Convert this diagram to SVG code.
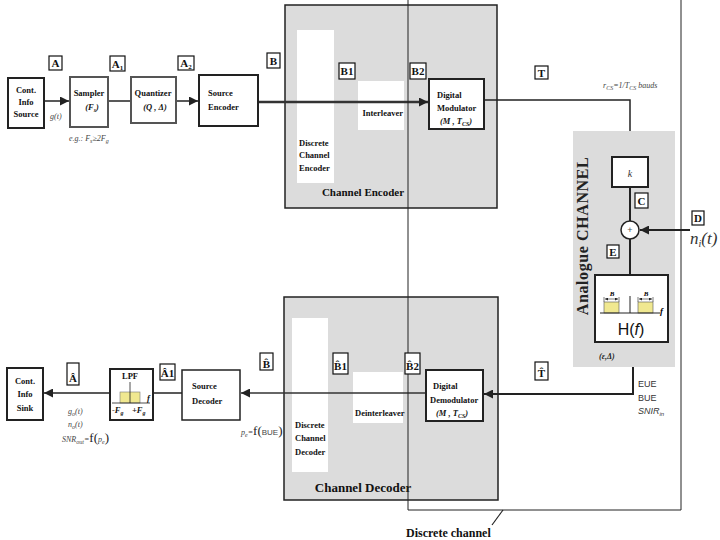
<svg xmlns="http://www.w3.org/2000/svg" width="720" height="540" viewBox="0 0 720 540">
<defs>
<style>
.t{font-family:"Liberation Serif",serif;font-weight:bold;font-size:8.5px;fill:#111}
.tc{text-anchor:middle}
.box{fill:#fff;stroke:#222;stroke-width:2}
.boxg{fill:#fff;stroke:#555;stroke-width:2}
.gray{fill:#dcdcdc}
.lbl{fill:#fff;stroke:#111;stroke-width:1.2}
.lt{font-family:"Liberation Serif",serif;font-weight:bold;font-size:11px;fill:#111;text-anchor:middle}
.it{font-family:"Liberation Serif",serif;font-style:italic;font-size:8px;fill:#444}
.ln{fill:none;stroke:#222;stroke-width:1.5}
.sn{font-family:"Liberation Sans Narrow","Liberation Sans",sans-serif;font-size:9px;fill:#333}
</style>
<marker id="ah" viewBox="0 0 10 10" refX="10" refY="5" markerWidth="9" markerHeight="9" markerUnits="userSpaceOnUse" orient="auto">
<path d="M0,0 L10,5 L0,10 Z" fill="#222"/>
</marker>
<marker id="sa" viewBox="0 0 10 10" refX="10" refY="5" markerWidth="3" markerHeight="3" markerUnits="userSpaceOnUse" orient="auto-start-reverse">
<path d="M0,0 L10,5 L0,10 Z" fill="#222"/>
</marker>
</defs>

<!-- gray containers -->
<g id="channel-encoder">
<rect x="285" y="5" width="212" height="203" class="gray" stroke="#222" stroke-width="1.5"/>
<rect x="297" y="30" width="37" height="153" fill="#fff"/>
<rect x="358" y="81" width="46" height="49" fill="#fff"/>
<text class="t" x="299" y="146">Discrete</text>
<text class="t" x="299" y="158">Channel</text>
<text class="t" x="299" y="171">Encoder</text>
<text class="t" x="403" y="116" text-anchor="end">Interleaver</text>
<text class="t" x="363" y="196" style="font-size:11px" text-anchor="middle">Channel Encoder</text>
</g>
<g id="channel-decoder">
<rect x="284" y="297" width="214" height="203" class="gray" stroke="#222" stroke-width="1.5"/>
<rect x="292" y="318" width="36" height="154" fill="#fff"/>
<rect x="353" y="372" width="50" height="51" fill="#fff"/>
<text class="t" x="295" y="428">Discrete</text>
<text class="t" x="295" y="441">Channel</text>
<text class="t" x="295" y="455">Decoder</text>
<text class="t" x="355" y="416">Deinterleaver</text>
<text class="t" x="363" y="492" style="font-size:13px" text-anchor="middle">Channel Decoder</text>
</g>
<g id="analogue-channel">
<rect x="573" y="131" width="102" height="236" class="gray"/>
<text x="588" y="236" transform="rotate(-90 588 236)" text-anchor="middle" font-family="Liberation Serif,serif" font-weight="bold" font-size="16" letter-spacing="0.6" fill="#222">Analogue  CHANNEL</text>
<text class="it" x="599" y="359" font-weight="bold" style="fill:#222">(ε,Δ)</text>
</g>

<!-- connectors -->
<g id="connectors">
<line x1="45" y1="101" x2="69" y2="101" class="ln" marker-end="url(#ah)"/>
<line x1="108" y1="101" x2="131" y2="101" class="ln"/>
<line x1="176" y1="101" x2="198" y2="101" class="ln" marker-end="url(#ah)"/>
<line x1="258" y1="102" x2="428" y2="102" stroke="#333" stroke-width="2.5" marker-end="url(#ah)"/>
<polyline points="484,100 630,100 630,131" class="ln"/>
<line x1="630" y1="187" x2="630" y2="221" stroke="#222" stroke-width="2"/>
<line x1="630" y1="239" x2="630" y2="275" stroke="#222" stroke-width="2"/>
<line x1="690" y1="230" x2="640" y2="230" stroke="#222" stroke-width="2" marker-end="url(#ah)"/>
<polyline points="633,367 633,394 484,394" stroke="#222" stroke-width="2" fill="none" marker-end="url(#ah)"/>
<line x1="426" y1="393" x2="241" y2="393" stroke="#333" stroke-width="1.3" marker-end="url(#ah)"/>
<line x1="182" y1="393" x2="153" y2="393" class="ln"/>
<line x1="110" y1="393" x2="44" y2="393" class="ln" marker-end="url(#ah)"/>
<!-- discrete channel outline -->
<polyline points="408,0 408,510 681,510 681,0" fill="none" stroke="#222" stroke-width="1"/>
<line x1="492" y1="525" x2="503" y2="510" stroke="#222" stroke-width="1.2"/>
</g>

<!-- nodes -->
<g id="source">
<rect x="8" y="78" width="36" height="50" class="box"/>
<text class="t tc" x="26" y="93">Cont.</text>
<text class="t tc" x="26" y="105">Info</text>
<text class="t tc" x="26" y="117">Source</text>
</g>
<g id="sampler">
<rect x="70" y="77" width="38" height="50" class="boxg"/>
<text class="t tc" x="89" y="96">Sampler</text>
<text class="t tc" x="92" y="110" font-style="italic">(F<tspan font-size="6" dy="2">s</tspan><tspan dy="-2">)</tspan></text>
</g>
<g id="quantizer">
<rect x="131" y="77" width="45" height="46" class="boxg"/>
<text class="t tc" x="153" y="96">Quantizer</text>
<text class="t tc" x="155" y="110" font-style="italic">(Q , Δ)</text>
</g>
<g id="source-encoder">
<rect x="199" y="75" width="59" height="51" class="box"/>
<text class="t" x="208" y="96">Source</text>
<text class="t" x="208" y="110">Encoder</text>
</g>
<g id="modulator">
<rect x="429" y="79" width="55" height="50" class="box"/>
<text class="t" x="437" y="98">Digital</text>
<text class="t" x="437" y="111">Modulator</text>
<text class="t" x="440" y="124" font-style="italic">(M , T<tspan font-size="6" dy="2">CS</tspan><tspan dy="-2">)</tspan></text>
</g>
<g id="gain">
<rect x="612" y="157" width="36" height="30" class="box"/>
<text x="630" y="177" text-anchor="middle" font-family="Liberation Serif,serif" font-style="italic" font-size="10" fill="#333">k</text>
</g>
<g id="adder">
<circle cx="630" cy="230" r="9" fill="#fff" stroke="#222" stroke-width="1.5"/>
<text x="630" y="233" text-anchor="middle" font-family="Liberation Sans,sans-serif" font-size="9" fill="#555">+</text>
</g>
<g id="filter">
<rect x="595" y="275" width="73" height="67" class="box"/>
<rect x="604" y="302" width="15" height="11" fill="#f0e890" stroke="#555" stroke-width="0.6"/>
<rect x="638" y="302" width="15" height="11" fill="#f0e890" stroke="#555" stroke-width="0.6"/>
<line x1="600" y1="313" x2="660" y2="313" stroke="#222" stroke-width="1"/>
<line x1="630" y1="296" x2="630" y2="313" stroke="#222" stroke-width="1"/>
<line x1="605" y1="299" x2="618" y2="299" stroke="#222" stroke-width="0.6" marker-start="url(#sa)" marker-end="url(#sa)"/>
<line x1="639" y1="299" x2="652" y2="299" stroke="#222" stroke-width="0.6" marker-start="url(#sa)" marker-end="url(#sa)"/>
<line x1="604" y1="297" x2="604" y2="302" stroke="#222" stroke-width="0.6"/>
<line x1="619" y1="297" x2="619" y2="302" stroke="#222" stroke-width="0.6"/>
<line x1="638" y1="297" x2="638" y2="302" stroke="#222" stroke-width="0.6"/>
<line x1="653" y1="297" x2="653" y2="302" stroke="#222" stroke-width="0.6"/>
<text x="612" y="296" text-anchor="middle" font-family="Liberation Serif,serif" font-style="italic" font-weight="bold" font-size="7">B</text>
<text x="646" y="296" text-anchor="middle" font-family="Liberation Serif,serif" font-style="italic" font-weight="bold" font-size="7">B</text>
<text x="660" y="314" font-family="Liberation Serif,serif" font-style="italic" font-weight="bold" font-size="9">f</text>
<text x="631" y="335" text-anchor="middle" font-family="Liberation Sans,sans-serif" font-size="16" fill="#111">H(<tspan font-style="italic">f</tspan>)</text>
</g>
<g id="demodulator">
<rect x="426" y="370" width="57" height="51" class="box"/>
<text class="t" x="433" y="389">Digital</text>
<text class="t" x="430" y="403">Demodulator</text>
<text class="t" x="436" y="416" font-style="italic">(M , T<tspan font-size="6" dy="2">CS</tspan><tspan dy="-2">)</tspan></text>
</g>
<g id="source-decoder">
<rect x="182" y="370" width="58" height="50" fill="#fff" stroke="#222" stroke-width="1.5"/>
<text class="t" x="192" y="389">Source</text>
<text class="t" x="192" y="404">Decoder</text>
</g>
<g id="lpf">
<rect x="110" y="369" width="43" height="51" class="box"/>
<text class="t tc" x="130" y="379">LPF</text>
<rect x="120" y="392" width="20" height="11" fill="#f0e890" stroke="#777" stroke-width="0.6"/>
<line x1="130" y1="382" x2="130" y2="403" stroke="#222" stroke-width="0.8"/>
<line x1="112" y1="403" x2="150" y2="403" stroke="#222" stroke-width="0.8"/>
<text class="t" x="112" y="413" font-style="italic">-F<tspan font-size="6" dy="2">g</tspan></text>
<text class="t" x="132" y="413" font-style="italic">+F<tspan font-size="6" dy="2">g</tspan></text>
<text class="t" x="147" y="401" font-style="italic">f</text>
</g>
<g id="sink">
<rect x="7" y="368" width="36" height="52" class="box"/>
<text class="t tc" x="25" y="384">Cont.</text>
<text class="t tc" x="25" y="397">Info</text>
<text class="t tc" x="25" y="411">Sink</text>
</g>

<!-- point labels -->
<g id="labels">
<rect x="49" y="56" width="13" height="14" class="lbl"/><text class="lt" x="55.5" y="67">A</text>
<rect x="110" y="56" width="15" height="15" class="lbl"/><text class="lt" x="117.5" y="68">A<tspan font-size="7" dy="2">1</tspan></text>
<rect x="178" y="56" width="16" height="14" class="lbl"/><text class="lt" x="186" y="67">A<tspan font-size="7" dy="2">2</tspan></text>
<rect x="267" y="53" width="13" height="15" class="lbl"/><text class="lt" x="273.5" y="65">B</text>
<rect x="339" y="63" width="16" height="16" class="lbl"/><text class="lt" x="347" y="75">B1</text>
<rect x="410" y="63" width="16" height="16" class="lbl"/><text class="lt" x="418" y="75">B2</text>
<rect x="535" y="66" width="13" height="13" class="lbl"/><text class="lt" x="541.5" y="77">T</text>
<rect x="635" y="193" width="13" height="15" class="lbl"/><text class="lt" x="641.5" y="205">C</text>
<rect x="692" y="211" width="12" height="14" class="lbl"/><text class="lt" x="698" y="222">D</text>
<rect x="607" y="245" width="12" height="13" class="lbl"/><text class="lt" x="613" y="256">E</text>
<rect x="67" y="363" width="12" height="22" class="lbl"/><text class="lt" x="73" y="382">Â</text>
<rect x="160" y="364" width="15" height="16" class="lbl"/><text class="lt" x="167.5" y="377">Â1</text>
<rect x="260" y="353" width="13" height="17" class="lbl"/><text class="lt" x="266.5" y="368">B̂</text>
<rect x="333" y="353" width="15" height="21" class="lbl"/><text class="lt" x="340.5" y="370">B̂1</text>
<rect x="405" y="353" width="15" height="21" class="lbl"/><text class="lt" x="412.5" y="370">B̂2</text>
<rect x="535" y="362" width="13" height="18" class="lbl"/><text class="lt" x="541.5" y="377">T̂</text>
</g>

<!-- annotations -->
<g id="annotations">
<text class="it" x="50" y="119">g(t)</text>
<text class="it" x="69" y="141">e.g.: F<tspan font-size="6" dy="2">s</tspan><tspan dy="-2">≥2F</tspan><tspan font-size="6" dy="2">g</tspan></text>
<text class="it" x="603" y="88">r<tspan font-size="6" dy="2">CS</tspan><tspan dy="-2">=1/T</tspan><tspan font-size="6" dy="2">CS</tspan><tspan dy="-2"> bauds</tspan></text>
<text x="690" y="244" font-family="Liberation Serif,serif" font-style="italic" font-size="17" fill="#333">n<tspan font-size="10" dy="3">i</tspan><tspan dy="-3">(t)</tspan></text>
<text class="sn" x="638" y="387">EUE</text>
<text class="sn" x="638" y="401">BUE</text>
<text class="sn" x="638" y="414" font-style="italic">SNIR<tspan font-size="6" dy="2">in</tspan></text>
<text class="it" x="68" y="414">g<tspan font-size="6" dy="2">o</tspan><tspan dy="-2">(t)</tspan></text>
<text class="it" x="68" y="427">n<tspan font-size="6" dy="2">o</tspan><tspan dy="-2">(t)</tspan></text>
<text class="it" x="62" y="442">SNR<tspan font-size="6" dy="2">out</tspan><tspan dy="-2">=</tspan><tspan font-style="normal" font-size="13" fill="#222">f(</tspan><tspan>p</tspan><tspan font-size="6" dy="2">e</tspan><tspan dy="-2" font-style="normal" font-size="13" fill="#222">)</tspan></text>
<text class="it" x="241" y="435">p<tspan font-size="6" dy="2">e</tspan><tspan dy="-2">=</tspan><tspan font-style="normal" font-size="13" fill="#222">f(</tspan><tspan font-style="normal" font-family="Liberation Sans Narrow,sans-serif" font-size="8">BUE</tspan><tspan font-style="normal" font-size="13" fill="#222">)</tspan></text>
<text x="406" y="537" font-family="Liberation Serif,serif" font-weight="bold" font-size="12" fill="#111">Discrete channel</text>
</g>
</svg>
